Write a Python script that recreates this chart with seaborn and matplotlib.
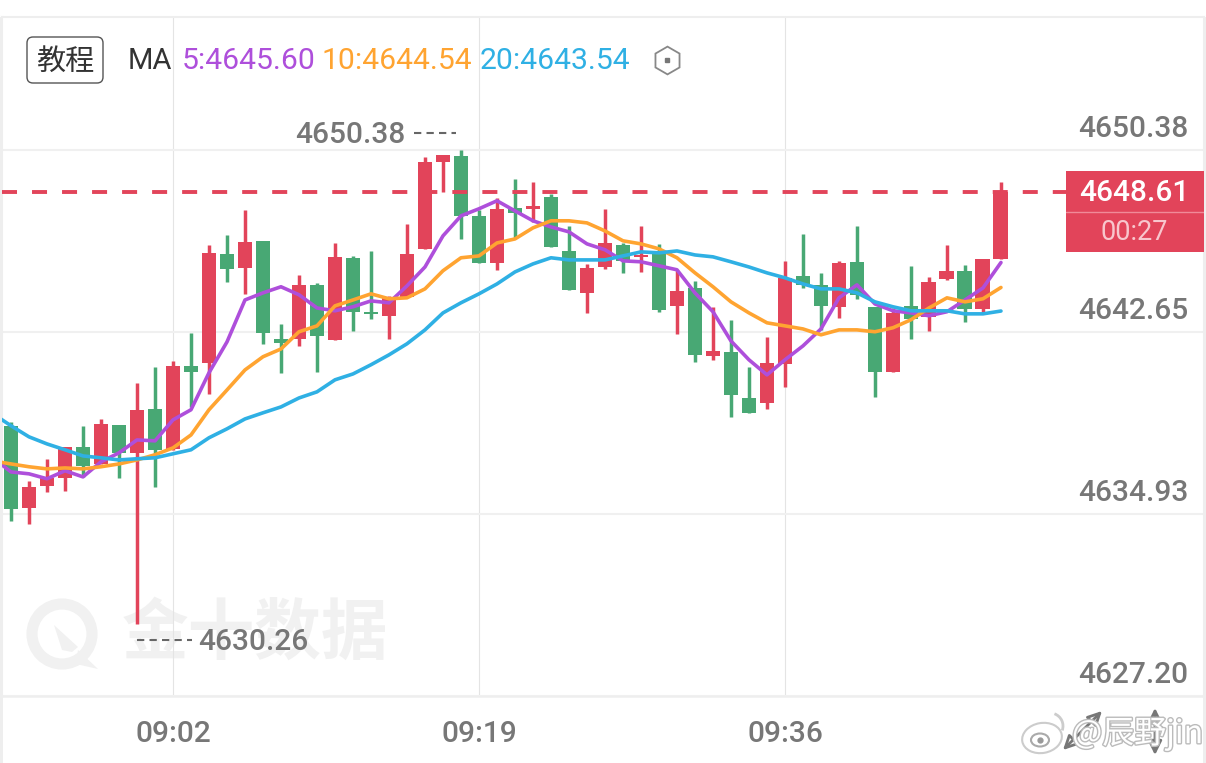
import numpy as np
import pandas as pd
import matplotlib
matplotlib.use("Agg")
import matplotlib.pyplot as plt
import matplotlib.patheffects as pe
from matplotlib.patches import Arc, Circle, Ellipse, FancyBboxPatch, Polygon, Rectangle
import seaborn as sns

# candles, one per minute from 08:53
opens = [4638.67, 4635.19, 4636.12, 4636.46, 4637.78, 4637.05, 4638.71, 4637.52, 4639.39, 4637.69,
         4641.21, 4641.34, 4645.97, 4645.37, 4646.52, 4642.36, 4642.36, 4644.65, 4642.32, 4645.80,
         4643.51, 4643.34, 4644.14, 4646.18, 4649.87, 4650.13, 4647.58, 4645.58, 4647.92, 4647.88,
         4648.39, 4646.09, 4644.31, 4645.41, 4646.35, 4645.84, 4646.09, 4643.76, 4644.52, 4641.64,
         4641.81, 4639.85, 4639.64, 4641.30, 4645.03, 4644.65, 4643.72, 4645.63, 4643.72, 4640.96,
         4643.76, 4643.29, 4644.91, 4645.25, 4643.63, 4645.75]
closes = [4635.14, 4636.08, 4636.46, 4637.78, 4636.97, 4638.75, 4637.52, 4639.35, 4637.65, 4641.21,
          4640.96, 4646.01, 4645.33, 4646.48, 4642.61, 4642.19, 4644.65, 4642.49, 4645.84, 4643.51,
          4643.42, 4644.10, 4645.97, 4649.87, 4650.17, 4647.58, 4645.58, 4647.88, 4647.71, 4648.00,
          4646.26, 4644.44, 4645.37, 4646.43, 4645.67, 4645.92, 4643.59, 4644.40, 4641.68, 4641.85,
          4639.98, 4639.22, 4641.34, 4644.95, 4644.65, 4643.76, 4645.58, 4644.23, 4640.96, 4643.46,
          4643.21, 4644.78, 4645.25, 4643.63, 4645.75, 4648.61]
highs = [4638.84, 4636.33, 4637.27, 4637.78, 4638.67, 4638.96, 4638.71, 4640.49, 4641.17, 4641.43,
         4642.61, 4646.35, 4646.77, 4647.83, 4646.52, 4643.00, 4645.08, 4644.74, 4646.43, 4645.88,
         4646.09, 4644.18, 4647.24, 4650.08, 4650.17, 4650.38, 4647.83, 4648.34, 4649.15, 4649.02,
         4648.51, 4647.15, 4645.54, 4647.88, 4646.43, 4647.15, 4646.39, 4645.29, 4644.82, 4643.72,
         4643.17, 4641.17, 4642.44, 4645.67, 4646.82, 4645.16, 4645.67, 4647.15, 4643.72, 4643.67,
         4645.46, 4644.99, 4646.35, 4645.50, 4645.75, 4649.02]
lows = [4634.63, 4634.51, 4635.87, 4635.91, 4636.50, 4637.05, 4636.46, 4630.26, 4636.08, 4637.65,
        4639.47, 4640.03, 4644.78, 4644.27, 4642.15, 4640.92, 4642.06, 4640.96, 4642.32, 4642.70,
        4643.21, 4642.36, 4644.14, 4646.18, 4648.60, 4646.60, 4645.58, 4645.29, 4646.65, 4647.32,
        4646.26, 4644.44, 4643.46, 4645.33, 4645.16, 4645.20, 4643.51, 4642.57, 4641.38, 4641.47,
        4639.05, 4639.22, 4639.39, 4640.32, 4644.52, 4642.74, 4643.25, 4644.06, 4639.90, 4640.96,
        4642.36, 4642.70, 4644.86, 4643.08, 4643.46, 4645.75]

# moving averages, first value belongs to the candle left of the visible window
ma5 = [4637.31, 4636.71, 4636.63, 4636.42, 4636.76, 4636.50, 4637.14, 4637.52, 4638.07, 4638.03,
       4638.92, 4639.35, 4640.92, 4642.23, 4644.01, 4644.31, 4644.57, 4644.23, 4643.67, 4643.55,
       4643.72, 4643.97, 4643.89, 4644.61, 4645.41, 4646.73, 4647.58, 4647.88, 4648.22, 4647.79,
       4647.37, 4647.11, 4646.90, 4646.39, 4646.14, 4645.67, 4645.63, 4645.46, 4645.29, 4644.31,
       4643.51, 4642.27, 4641.47, 4640.83, 4641.47, 4642.06, 4642.78, 4644.10, 4644.65, 4643.84,
       4643.55, 4643.46, 4643.34, 4643.51, 4644.01, 4644.52, 4645.60]
ma10 = [4637.18, 4637.05, 4636.93, 4636.84, 4636.88, 4636.84, 4636.93, 4637.05, 4637.22, 4637.44,
        4637.73, 4638.28, 4639.35, 4640.19, 4641.04, 4641.60, 4641.93, 4642.66, 4642.91, 4643.76,
        4644.01, 4644.27, 4644.06, 4644.10, 4644.48, 4645.25, 4645.80, 4645.88, 4646.43, 4646.60,
        4647.07, 4647.37, 4647.37, 4647.28, 4646.94, 4646.52, 4646.39, 4646.18, 4645.80, 4645.16,
        4644.57, 4643.93, 4643.46, 4643.04, 4642.91, 4642.78, 4642.53, 4642.74, 4642.74, 4642.66,
        4642.83, 4643.17, 4643.67, 4644.10, 4643.93, 4644.06, 4644.54]
ma20 = [4639.18, 4638.67, 4638.20, 4637.90, 4637.65, 4637.39, 4637.31, 4637.22, 4637.27, 4637.31,
        4637.48, 4637.65, 4638.16, 4638.54, 4638.96, 4639.22, 4639.47, 4639.85, 4640.11, 4640.62,
        4640.87, 4641.26, 4641.68, 4642.15, 4642.74, 4643.46, 4643.89, 4644.27, 4644.69, 4645.20,
        4645.54, 4645.80, 4645.71, 4645.71, 4645.71, 4645.88, 4646.05, 4646.01, 4646.09, 4645.92,
        4645.84, 4645.63, 4645.41, 4645.16, 4644.95, 4644.69, 4644.48, 4644.48, 4644.31, 4643.93,
        4643.72, 4643.55, 4643.55, 4643.55, 4643.42, 4643.42, 4643.54]

price_ticks = [4650.38, 4642.65, 4634.93, 4627.20]
time_ticks = [9, 26, 43]
time_labels = ["09:02", "09:19", "09:36"]
last_price = 4648.61

RED = "#E2445A"
GREEN = "#48A874"
PURPLE = "#AE4FDB"
ORANGE = "#FFA431"
BLUE = "#2FB0E4"
GREY = "#777777"
NUM_SIZE = 21.5

sns.set_theme(style="white")
cjk = ["Noto Sans CJK SC", "DejaVu Sans"]
plt.rcParams["font.family"] = ["Roboto", "DejaVu Sans"]

W, H = 1206, 763
fig = plt.figure(figsize=(W / 100, H / 100), dpi=100, facecolor="white")

# overlay in pixels, only for the app chrome round the chart
ui = fig.add_axes([0, 0, 1, 1], zorder=0)
ui.set_xlim(0, W)
ui.set_ylim(H, 0)
ui.axis("off")

ax = fig.add_axes([2 / W, (H - 696) / H, 1202 / W, 679 / H], zorder=1)
ax.patch.set_alpha(0)
ax.set_xlim(-0.5, 66.28)
ax.set_ylim(4627.20, 4656.02)

idx = np.arange(len(opens))
opens_a, closes_a = np.array(opens), np.array(closes)
colors = [RED if c >= o else GREEN for o, c in zip(opens, closes)]

ax.vlines(idx, lows, highs, colors=colors, linewidth=2.5, zorder=3)
ax.bar(idx, np.abs(closes_a - opens_a), bottom=np.minimum(opens_a, closes_a),
       width=0.83, color=colors, linewidth=0, zorder=3)

ma_df = pd.DataFrame({
    "idx": np.tile(np.arange(-1, len(opens)), 3),
    "value": ma5 + ma10 + ma20,
    "series": ["MA5"] * len(ma5) + ["MA10"] * len(ma10) + ["MA20"] * len(ma20),
})
sns.lineplot(data=ma_df, x="idx", y="value", hue="series", hue_order=["MA5", "MA10", "MA20"],
             palette=[PURPLE, ORANGE, BLUE], estimator=None, sort=False, legend=False,
             linewidth=2.6, ax=ax, zorder=4)

ax.plot([-0.5, (1066 - 11) / 18], [last_price, last_price], color=RED, linewidth=2.8,
        dashes=(3.86, 3.86), dash_capstyle="butt", zorder=5)

ax.set_xlabel("")
ax.set_ylabel("")
ax.set_xticks(time_ticks, time_labels)
ax.set_yticks(price_ticks, [])
ax.tick_params(axis="both", length=0)
ax.tick_params(axis="x", pad=17, labelsize=NUM_SIZE, labelcolor=GREY)
for label in ax.get_xticklabels():
    label.set_fontweight("medium")
ax.yaxis.grid(True, color="#f0f0f0", linewidth=1.5, zorder=0)
ax.xaxis.grid(True, color="#e4e4e4", linewidth=0.8, zorder=0)
ax.set_axisbelow(True)
for spine in ax.spines.values():
    spine.set_color("#eeeeee")
    spine.set_linewidth(1.5)
ax.spines["bottom"].set_visible(False)

for v in price_ticks:
    ax.annotate(f"{v:.2f}", xy=(1, v), xycoords=ax.get_yaxis_transform(), xytext=(-11.5, 15.0),
                textcoords="offset points", ha="right", va="center", fontsize=NUM_SIZE,
                fontweight="medium", color=GREY)

# left border keeps going below the plot
ui.add_patch(Rectangle((0, 17), 3, H - 17, color="#eeeeee", lw=0))
ui.add_patch(Rectangle((1203, 17), 3, H - 17, color="#eeeeee", lw=0))
ui.plot([0, W], [696, 696], color="#eeeeee", linewidth=1.8)

# legend row
ui.add_patch(FancyBboxPatch((27, 37), 76, 46, boxstyle="round,pad=0,rounding_size=6",
                            facecolor="white", edgecolor="#555555", linewidth=1))
ui.text(65, 62, "教程", family=cjk, fontsize=21, color="#333333", ha="center", va="center")
ui.text(128, 61, "MA", fontsize=21, color="#333333", ha="left", va="center")
ui.text(182, 61, "5:4645.60", fontsize=21.7, color=PURPLE, ha="left", va="center")
ui.text(322, 61, "10:4644.54", fontsize=21.7, color=ORANGE, ha="left", va="center")
ui.text(480, 61, "20:4643.54", fontsize=21.7, color=BLUE, ha="left", va="center")
ui.plot([667], [60], marker="h", markersize=20, markerfacecolor="white", markeredgecolor="#888888",
        markeredgewidth=1.3)
ui.plot([667], [60], marker="s", markersize=2.5, color="#777777")

# 金十 watermark
wm = "#f1f1f1"
ui.add_patch(Circle((62, 634), 30, facecolor="none", edgecolor=wm, linewidth=8))
ui.add_patch(Polygon([(54, 625), (78, 647), (72, 652), (62, 650)], color=wm, lw=0))
ui.add_patch(Polygon([(78, 650), (98, 669), (76, 664)], color=wm, lw=0))
ui.text(255, 634, "金十数据", family=cjk, fontsize=48, fontweight="bold", color=wm, ha="center", va="center",
        zorder=1)

# high and low labels
ui.text(295, 135, "4650.38", fontsize=NUM_SIZE, fontweight="medium", color=GREY, ha="left", va="center", zorder=5)
ui.plot([414, 456], [133, 133], color="#666666", linewidth=1.5, dashes=(3.5, 2.5), zorder=5)
ui.text(198, 642, "4630.26", fontsize=NUM_SIZE, fontweight="medium", color=GREY, ha="left", va="center", zorder=5)
ui.plot([137, 192], [640, 640], color="#666666", linewidth=1.5, dashes=(3.5, 2.5), zorder=5)

# last price tag
tag = fig.add_axes([1066 / W, (H - 252) / H, 138 / W, 81 / H], zorder=6)
tag.axis("off")
tag.set_xlim(1066, 1204)
tag.set_ylim(252, 171)
tag.add_patch(Rectangle((1066, 171), 138, 81, color=RED, lw=0))
tag.plot([1066, 1204], [212, 212], color="#F08A98", linewidth=1)
tag.text(1134, 193, "4648.61", fontsize=NUM_SIZE, color="white", ha="center", va="center", fontweight="medium")
tag.text(1134, 233, "00:27", fontsize=19.5, color="#F8C6CD", ha="center", va="center")

# screenshot icons and weibo mark
ui.annotate("", xy=(1102, 711), xytext=(1063, 750),
            arrowprops=dict(arrowstyle="<|-|>,head_width=0.35,head_length=0.7", color=GREY, linewidth=2,
                            fill=False, shrinkA=0, shrinkB=0))
ui.annotate("", xy=(1155, 708), xytext=(1155, 755),
            arrowprops=dict(arrowstyle="<|-|>,head_width=0.35,head_length=0.7", color=GREY, linewidth=2,
                            fill=False, shrinkA=0, shrinkB=0))
ui.add_patch(Ellipse((1042, 738), 40, 30, angle=-10, facecolor="white", edgecolor="#cccccc", linewidth=1.5))
ui.add_patch(Ellipse((1040, 740), 18, 13, facecolor="white", edgecolor="#aaaaaa", linewidth=1.5))
ui.plot([1040], [740], marker="o", markersize=3.5, color="#999999")
ui.add_patch(Arc((1050, 726), 26, 26, theta1=-70, theta2=20, edgecolor="#cccccc", linewidth=2))
ui.text(1072, 734, "@辰野jin", family=cjk, fontsize=23, color="white", ha="left", va="center",
        path_effects=[pe.withStroke(linewidth=2, foreground="#bbbbbb")])

fig.savefig("out.png", dpi=100)
